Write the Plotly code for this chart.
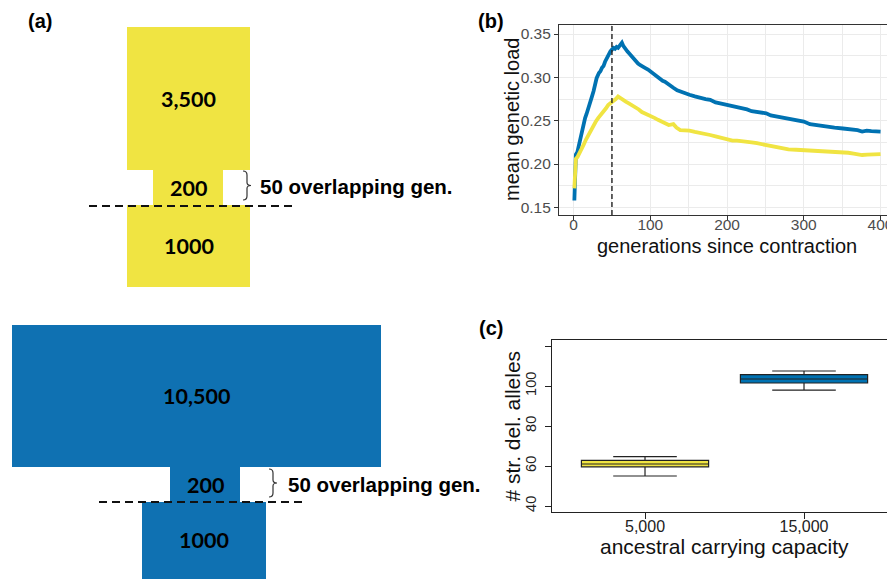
import plotly.graph_objects as go

W, H = 887, 579

# ---------------- Panel (b): mean genetic load over time ----------------
gen_blue = [1, 2, 3, 5, 7, 9, 11, 13, 15, 17, 19, 21, 24, 26, 28, 30, 33, 35, 37, 39, 41, 43, 46, 48,
            50, 52, 54, 56, 58, 60, 62, 63, 65, 67, 70, 74, 77, 80, 84, 87, 90, 93, 97, 100, 103, 106,
            110, 113, 116, 119, 123, 126, 130, 135, 139, 145, 151, 158, 165, 172, 178, 185, 191, 196,
            201, 207, 213, 220, 226, 232, 239, 245, 251, 257, 263, 270, 277, 283, 290, 296, 300, 308,
            315, 322, 330, 340, 351, 358, 365, 370, 376, 382, 388, 394, 400]
load_blue = [0.158, 0.185, 0.211, 0.214, 0.222, 0.233, 0.242, 0.249, 0.253, 0.258, 0.263, 0.270, 0.278,
             0.284, 0.292, 0.299, 0.305, 0.307, 0.311, 0.313, 0.318, 0.322, 0.327, 0.330, 0.332, 0.334,
             0.333, 0.335, 0.334, 0.337, 0.338, 0.340, 0.336, 0.333, 0.330, 0.326, 0.323, 0.319, 0.316,
             0.314, 0.313, 0.311, 0.309, 0.307, 0.305, 0.303, 0.299, 0.297, 0.296, 0.295, 0.292, 0.290,
             0.288, 0.285, 0.284, 0.282, 0.280, 0.278, 0.276, 0.275, 0.274, 0.271, 0.270, 0.269, 0.268,
             0.267, 0.266, 0.264, 0.263, 0.261, 0.260, 0.259, 0.2585, 0.256, 0.255, 0.254, 0.253, 0.252,
             0.251, 0.250, 0.249, 0.246, 0.245, 0.244, 0.243, 0.242, 0.241, 0.2405, 0.240, 0.239, 0.2375,
             0.2385, 0.238, 0.2375, 0.2375]

gen_yellow = [1, 2, 3, 5, 7, 9, 11, 13, 16, 19, 22, 26, 29, 32, 35, 39, 42, 45, 48, 52, 55, 58, 61, 65,
              68, 72, 76, 80, 85, 89, 94, 98, 102, 106, 110, 115, 120, 124, 130, 134, 139, 145, 151, 158,
              165, 172, 178, 185, 191, 196, 201, 207, 213, 220, 226, 232, 239, 245, 251, 257, 263, 270,
              280, 290, 300, 308, 315, 322, 330, 340, 351, 358, 365, 370, 376, 383, 390, 395, 400]
load_yellow = [0.172, 0.190, 0.206, 0.208, 0.211, 0.214, 0.218, 0.222, 0.228, 0.233, 0.239, 0.245, 0.249,
               0.253, 0.256, 0.260, 0.264, 0.268, 0.270, 0.272, 0.275, 0.278, 0.276, 0.274, 0.272, 0.270,
               0.268, 0.266, 0.263, 0.260, 0.258, 0.257, 0.255, 0.253, 0.251, 0.249, 0.247, 0.245, 0.246,
               0.242, 0.2392, 0.239, 0.2385, 0.237, 0.2354, 0.234, 0.2335, 0.232, 0.2308, 0.229, 0.2277,
               0.227, 0.227, 0.2265, 0.226, 0.225, 0.224, 0.223, 0.222, 0.220, 0.219, 0.218, 0.217, 0.2165,
               0.216, 0.2155, 0.215, 0.2148, 0.2145, 0.2142, 0.214, 0.213, 0.212, 0.211, 0.2104, 0.2108,
               0.211, 0.2105, 0.2115]
contraction_end = 50
b_xticks = [0, 100, 200, 300, 400]
b_yticks = [0.15, 0.20, 0.25, 0.30, 0.35]

# ---------------- Panel (c): boxplot ----------------
capacity_labels = ["5,000", "15,000"]
box_low = [55.0, 97.9]
box_q1 = [59.6, 101.5]
box_median = [61.0, 103.5]
box_q3 = [62.8, 105.7]
box_high = [64.7, 107.5]
c_yticks = [40, 60, 80, 100, 120]
c_yticklabels = ["40", "60", "80", "100", ""]

# ---------------- Panel (a): schematic ----------------
pop_yellow = ["3,500", "200", "1000"]
pop_blue = ["10,500", "200", "1000"]
overlap_label = "50 overlapping gen."

YEL = "#F0E442"
BLU = "#0072B2"
BLU_A = "#0F71B2"
FONT = "Liberation Sans"

# schematic geometry (pixel-like diagram units): (x0, x1, y0, y1)
blocks_yellow = [(127, 250, 27, 170), (153, 223, 170, 205), (127, 250, 205, 287)]
blocks_blue = [(12, 381, 325, 467), (170, 240, 467, 502), (142, 266, 502, 585)]


def px(x):
    return x / W


def py(y):
    return 1 - y / H


fig = go.Figure()

# panel (a) blocks as bars on diagram axis
for blocks, col in ((blocks_yellow, YEL), (blocks_blue, BLU_A)):
    fig.add_trace(go.Bar(
        x=[(b[0] + b[1]) / 2 for b in blocks],
        width=[b[1] - b[0] for b in blocks],
        base=[b[2] for b in blocks],
        y=[b[3] - b[2] for b in blocks],
        marker=dict(color=col, line=dict(width=0)),
        xaxis="x3", yaxis="y3", showlegend=False, hoverinfo="skip"))

# panel (b) lines
fig.add_trace(go.Scatter(x=gen_blue, y=load_blue, mode="lines",
                         line=dict(color=BLU, width=3.8), showlegend=False,
                         xaxis="x", yaxis="y"))
fig.add_trace(go.Scatter(x=gen_yellow, y=load_yellow, mode="lines",
                         line=dict(color=YEL, width=3.8), showlegend=False,
                         xaxis="x", yaxis="y"))

# panel (c) boxes
for i, col in enumerate((YEL, BLU)):
    fig.add_trace(go.Box(
        x=[i], q1=[box_q1[i]], median=[box_median[i]], q3=[box_q3[i]],
        lowerfence=[box_low[i]], upperfence=[box_high[i]],
        fillcolor=col, line=dict(color="#222222", width=1.2),
        width=0.8, whiskerwidth=0.5, boxpoints=False,
        xaxis="x2", yaxis="y2", showlegend=False, hoverinfo="skip"))

shapes = []
# dashed vertical line in (b)
shapes.append(dict(type="line", xref="x", yref="y domain", x0=contraction_end, x1=contraction_end,
                   y0=0, y1=1, line=dict(color="#222222", width=1.4, dash="5px,3px"), layer="above"))
# dashed lines in (a)
shapes.append(dict(type="line", xref="x3", yref="y3", x0=89, x1=294, y0=206, y1=206,
                   line=dict(color="#111111", width=2, dash="8px,5px"), layer="above"))
shapes.append(dict(type="line", xref="x3", yref="y3", x0=99, x1=304, y0=502, y1=502,
                   line=dict(color="#111111", width=2, dash="8px,5px"), layer="above"))


def brace(x0, y0, y1, w=4, tip=4):
    xm = x0 + w
    ym = (y0 + y1) / 2
    return (f"M {x0},{y0} Q {xm},{y0} {xm},{y0 + 4} L {xm},{ym - 3} Q {xm},{ym} {xm + tip},{ym} "
            f"Q {xm},{ym} {xm},{ym + 3} L {xm},{y1 - 4} Q {xm},{y1} {x0},{y1}")


shapes.append(dict(type="path", xref="x3", yref="y3", path=brace(243, 171, 200),
                   line=dict(color="#333333", width=1.2)))
shapes.append(dict(type="path", xref="x3", yref="y3", path=brace(269, 469, 497),
                   line=dict(color="#333333", width=1.2)))

ann = []
NUMF = dict(family="Lato", size=21.5, color="#000000")
for b, lab in zip(blocks_yellow, pop_yellow):
    ann.append(dict(xref="x3", yref="y3", x=(b[0] + b[1]) / 2, y=(b[2] + b[3]) / 2,
                    text=f"<b>{lab}</b>", showarrow=False, font=NUMF))
for b, lab in zip(blocks_blue, pop_blue):
    yc = (b[2] + b[3]) / 2 if b[3] < 580 else 540
    ann.append(dict(xref="x3", yref="y3", x=(b[0] + b[1]) / 2, y=yc,
                    text=f"<b>{lab}</b>", showarrow=False, font=NUMF))
OVF = dict(family=FONT, size=20.5, color="#000000")
ann.append(dict(xref="x3", yref="y3", x=258, y=186, xanchor="left", yanchor="middle",
                text=f"<b>{overlap_label}</b>", showarrow=False, font=OVF))
ann.append(dict(xref="x3", yref="y3", x=286, y=484, xanchor="left", yanchor="middle",
                text=f"<b>{overlap_label}</b>", showarrow=False, font=OVF))

# panel labels
LABF = dict(family=FONT, size=20, color="#000000")
for t, x, y in (("(a)", 40, 21), ("(b)", 491, 21), ("(c)", 491, 328)):
    ann.append(dict(xref="paper", yref="paper", x=px(x), y=py(y), text=f"<b>{t}</b>",
                    showarrow=False, xanchor="center", yanchor="middle", font=LABF))

# axis titles
TF = dict(family=FONT, size=20, color="#111111")
ann.append(dict(xref="paper", yref="paper", x=px(727), y=py(246), text="generations since contraction",
                showarrow=False, xanchor="center", yanchor="middle", font=TF))
ann.append(dict(xref="paper", yref="paper", x=px(512), y=py(120), text="mean genetic load",
                showarrow=False, xanchor="center", yanchor="middle", textangle=-90, font=TF))
TF2 = dict(family=FONT, size=21, color="#111111")
ann.append(dict(xref="paper", yref="paper", x=px(724), y=py(546), text="ancestral carrying capacity",
                showarrow=False, xanchor="center", yanchor="middle", font=TF2))
ann.append(dict(xref="paper", yref="paper", x=px(512.5), y=py(426), text="# str. del. alleles",
                showarrow=False, xanchor="center", yanchor="middle", textangle=-90, font=TF2))

GRID = "#EBEBEB"
fig.update_layout(
    width=W, height=H, margin=dict(l=0, r=0, t=0, b=0, autoexpand=False),
    paper_bgcolor="white", plot_bgcolor="white",
    barmode="overlay", showlegend=False,
    font=dict(family=FONT),
    shapes=shapes, annotations=ann,
    xaxis=dict(domain=[px(559), 1], range=[-19, 408.4], anchor="y", automargin=False,
               tickmode="array", tickvals=b_xticks, ticktext=[str(v) for v in b_xticks],
               ticklabeloverflow="allow", ticklabelstandoff=-9,
               showgrid=True, gridcolor=GRID, gridwidth=1.1,
               minor=dict(tickmode="array", tickvals=[50, 150, 250, 350], showgrid=True,
                          gridcolor=GRID, gridwidth=0.6, ticks=""),
               ticks="outside", ticklen=4, tickwidth=1.1, tickcolor="#333333",
               tickfont=dict(size=15.5, color="#4D4D4D", family=FONT),
               showline=True, mirror=True, linecolor="#333333", linewidth=1.1, zeroline=False),
    yaxis=dict(domain=[py(215), py(25)], range=[0.1412, 0.3604], anchor="x", automargin=False,
               tickmode="array", tickvals=b_yticks, ticktext=[f"{v:.2f}" for v in b_yticks],
               showgrid=True, gridcolor=GRID, gridwidth=1.1,
               minor=dict(tickmode="array", tickvals=[0.175, 0.225, 0.275, 0.325], showgrid=True,
                          gridcolor=GRID, gridwidth=0.6, ticks=""),
               ticks="outside", ticklen=4, tickwidth=1.1, tickcolor="#333333",
               tickfont=dict(size=15.5, color="#4D4D4D", family=FONT),
               showline=True, mirror=False, linecolor="#333333", linewidth=1.1, zeroline=False),
    xaxis2=dict(domain=[px(552), 1], range=[-0.585, 1.522], anchor="y2", automargin=False,
                tickmode="array", tickvals=[0, 1], ticktext=capacity_labels,
                ticklabelstandoff=-6,
                showgrid=False, zeroline=False,
                ticks="outside", ticklen=6, tickwidth=1, tickcolor="#222222",
                tickfont=dict(size=16, color="#222222", family=FONT),
                showline=True, mirror=True, linecolor="#222222", linewidth=1.1),
    yaxis2=dict(domain=[py(512), py(340)], range=[37, 123], anchor="x2", automargin=False,
                tickmode="array", tickvals=c_yticks, ticktext=c_yticklabels, tickangle=-90,
                ticklabelstandoff=3,
                showgrid=False, zeroline=False,
                ticks="outside", ticklen=6, tickwidth=1, tickcolor="#222222",
                tickfont=dict(size=14.5, color="#222222", family=FONT),
                showline=True, mirror=False, linecolor="#222222", linewidth=1.1),
    xaxis3=dict(domain=[0, px(490)], range=[0, 490], anchor="y3", visible=False, fixedrange=True,
                automargin=False),
    yaxis3=dict(domain=[0, 1], range=[579, 0], anchor="x3", visible=False, fixedrange=True,
                automargin=False),
)

fig.write_html("out.html")
